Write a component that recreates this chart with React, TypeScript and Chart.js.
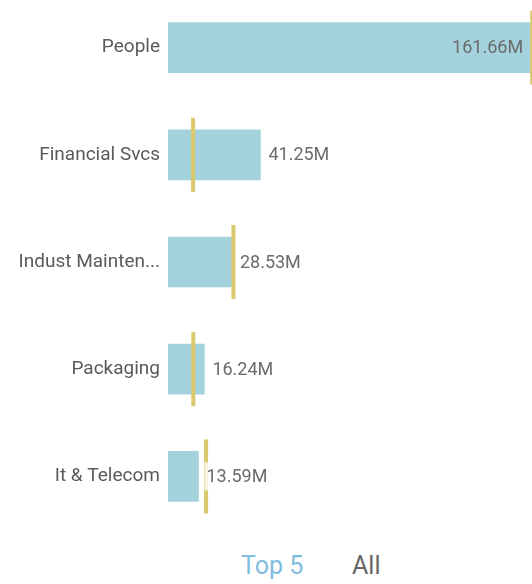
import React, { useEffect, useRef } from "react";
import { Chart, registerables } from "chart.js";

Chart.register(...registerables);

const categories = ["People", "Financial Svcs", "Indust Mainten...", "Packaging", "It & Telecom"];
const values = [161.66, 41.25, 28.53, 16.24, 13.59];
const targets = [162.6, 11.2, 29.2, 11.3, 17.0];
const valueLabels = ["161.66M", "41.25M", "28.53M", "16.24M", "13.59M"];
const toggleLabels = ["Top 5", "All"];

const BAR_COLOR = "#a3d2dc";
const TARGET_COLOR = "#dac86c";
const FONT = "Roboto";

const overlayPlugin = {
  id: "overlay",
  afterDatasetsDraw(chart: any) {
    const { ctx, chartArea } = chart;
    const xs = chart.scales.x;
    const meta = chart.getDatasetMeta(0);
    ctx.save();
    meta.data.forEach((bar: any, i: number) => {
      const tx = xs.getPixelForValue(targets[i]);
      ctx.fillStyle = TARGET_COLOR;
      ctx.fillRect(tx - 2, bar.y - 37, 4, 74);
    });
    ctx.font = `18px ${FONT}`;
    ctx.textBaseline = "middle";
    meta.data.forEach((bar: any, i: number) => {
      const txt = valueLabels[i];
      const w = ctx.measureText(txt).width;
      const end = bar.x;
      if (end + 8 + w > chartArea.right) {
        ctx.textAlign = "right";
        ctx.fillStyle = "#6b6b6b";
        ctx.fillText(txt, end - 7, bar.y + 1);
      } else {
        ctx.fillStyle = "rgba(255,255,255,0.82)";
        ctx.fillRect(end + 6, bar.y - 14, w + 4, 28);
        ctx.textAlign = "left";
        ctx.fillStyle = "#6b6b6b";
        ctx.fillText(txt, end + 8, bar.y + 1);
      }
    });
    ctx.restore();
  },
};

export default function App() {
  const ref = useRef<HTMLCanvasElement | null>(null);
  useEffect(() => {
    if (!ref.current) return;
    const chart = new Chart(ref.current, {
      type: "bar",
      data: {
        labels: categories,
        datasets: [
          {
            data: values,
            backgroundColor: BAR_COLOR,
            barThickness: 50,
            borderWidth: 0,
          },
        ],
      },
      options: {
        indexAxis: "y",
        animation: false,
        responsive: true,
        maintainAspectRatio: false,
        layout: { padding: 0 },
        plugins: { legend: { display: false }, tooltip: { enabled: false } },
        scales: {
          x: { display: false, min: 0, max: 162.5 },
          y: {
            grid: { display: false, drawTicks: false },
            border: { display: false },
            ticks: {
              padding: 8,
              color: "#5a5a5a",
              font: { family: FONT, size: 19 },
            },
            afterFit(scale: any) {
              scale.width = 168;
              scale.paddingTop = 0;
              scale.paddingBottom = 0;
            },
          },
        },
      },
      plugins: [overlayPlugin],
    });
    return () => chart.destroy();
  }, []);

  return (
    <div style={{ position: "absolute", left: 0, top: 0, width: 532, height: 584, overflow: "hidden", background: "#fff" }}>
      <div style={{ position: "absolute", left: 0, top: -6, width: 532, height: 536 }}>
        <canvas ref={ref} />
      </div>
      <div
        style={{
          position: "absolute",
          top: 549,
          left: 0,
          width: 532,
          height: 34,
          fontFamily: FONT,
          fontSize: 25,
          lineHeight: "34px",
        }}
      >
        <span style={{ position: "absolute", left: 241, color: "#7fbde0" }}>{toggleLabels[0]}</span>
        <span style={{ position: "absolute", left: 352, color: "#666666" }}>{toggleLabels[1]}</span>
      </div>
    </div>
  );
}
